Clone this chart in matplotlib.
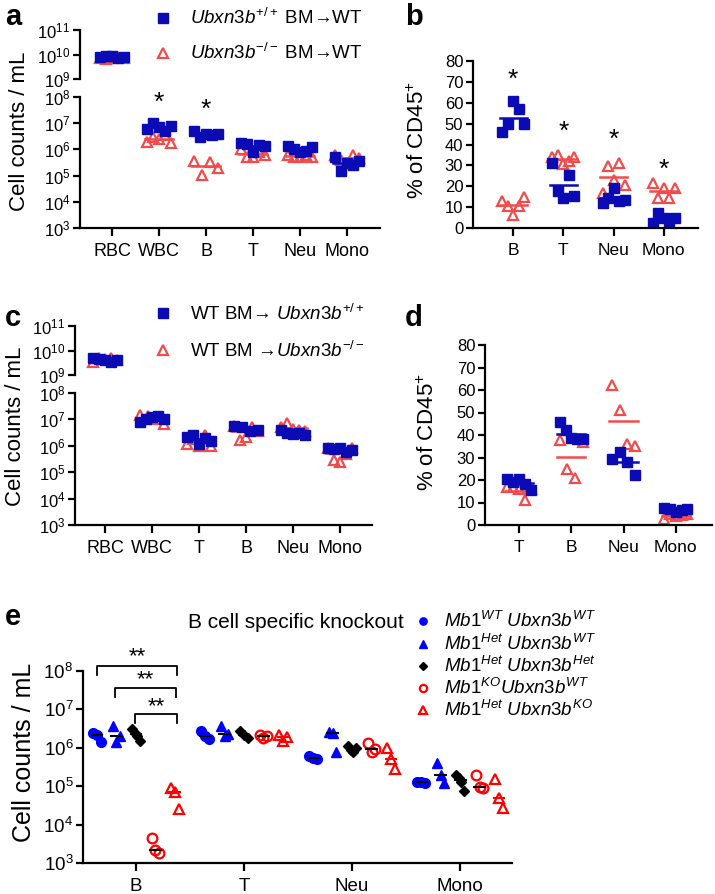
import numpy as np
import matplotlib
matplotlib.use('Agg')
import matplotlib.pyplot as plt
from matplotlib.lines import Line2D
from matplotlib.ticker import NullLocator

plt.rcParams['font.family'] = ['Liberation Sans', 'DejaVu Sans']
plt.rcParams['mathtext.fontset'] = 'custom'
plt.rcParams['mathtext.rm'] = 'Liberation Sans'
plt.rcParams['mathtext.it'] = 'Liberation Sans:italic'
plt.rcParams['mathtext.bf'] = 'Liberation Sans:bold'

BLUE = '#0B0BB5'
RED = '#F24B4B'

# ---- data ----
cats_a = ['RBC', 'WBC', 'B', 'T', 'Neu', 'Mono']
a_wt = [[8e9, 9e9, 8.5e9, 7.5e9, 8e9],
        [6e6, 1e7, 7e6, 5e6, 8e6],
        [5e6, 3e6, 4e6, 3.5e6, 4e6],
        [1.7e6, 1.6e6, 8e5, 1.5e6, 1.3e6],
        [1.4e6, 1e6, 8e5, 9e5, 1.2e6],
        [5e5, 1.5e5, 3e5, 2.5e5, 3.5e5]]
a_ko = [[7e9, 6.5e9, 7e9, 8e9, 7.5e9],
        [2e6, 3e6, 2.5e6, 3.5e6, 1.8e6],
        [3.5e5, 1.1e5, 3.2e5, 1.9e5],
        [1e6, 5e5, 5e5, 8e5, 6e5],
        [6e5, 5e5, 5e5, 6e5, 5e5],
        [6e5, 4e5, 3e5, 6e5, 4.5e5]]
a_star = {'WBC': 6e7, 'B': 3.2e7}

cats_b = ['B', 'T', 'Neu', 'Mono']
b_wt = [[46, 50, 61, 57, 50],
        [31, 17.6, 14.4, 25.6, 15.2],
        [12, 14.4, 19.2, 12.8, 13.6],
        [2.4, 7.2, 4.8, 3.2, 4.8]]
b_ko = [[12.8, 10.4, 6, 10.7, 15],
        [34, 35, 30.5, 32, 34],
        [16.8, 29.6, 23.2, 31.2, 20.8],
        [21.6, 14.4, 19.2, 14.4, 19.2]]
b_star = [71, 46, 42, 28]

cats_c = ['RBC', 'WBC', 'T', 'B', 'Neu', 'Mono']
c_wt = [[5e9, 4.5e9, 4e9, 3.5e9, 4e9],
        [8e6, 1e7, 1.2e7, 1.3e7, 1e7],
        [2.2e6, 2.5e6, 1.2e6, 2e6, 1.5e6],
        [5.5e6, 5e6, 3.5e6, 3.8e6],
        [4e6, 3e6, 2.8e6, 3e6, 2.5e6],
        [8e5, 7.5e5, 8e5, 6e5, 7e5]]
c_ko = [[3.5e9, 5e9, 4.5e9, 5e9, 4e9],
        [1.5e7, 1.3e7, 1e7, 6.5e6],
        [1.2e6, 1.8e6, 1e6, 2.5e6, 1e6],
        [5.5e6, 1.6e6, 2.2e6, 5e6, 3.5e6],
        [5e6, 7e6, 4.5e6, 4e6, 3.5e6],
        [8e5, 3e5, 2.5e5, 5e5, 8e5]]

cats_d = ['T', 'B', 'Neu', 'Mono']
d_wt = [[20.4, 18.9, 20.4, 18.2, 15.5],
        [45.7, 42.3, 38.7, 38.3, 38.3],
        [29.4, 32.3, 28.2, 22.4],
        [7.5, 7, 6, 6.5, 7]]
d_ko = [[16.7, 16.7, 15.9, 11, 16],
        [38, 24.9, 20.7, 37.1],
        [62.4, 51.3, 36.1, 35.3],
        [2.5, 5, 4, 4.5, 5]]

cats_e = ['B', 'T', 'Neu', 'Mono']
e_groups = [r'$\mathit{Mb1}^{\mathit{WT}}\ \mathit{Ubxn3b}^{\mathit{WT}}$',
            r'$\mathit{Mb1}^{\mathit{Het}}\ \mathit{Ubxn3b}^{\mathit{WT}}$',
            r'$\mathit{Mb1}^{\mathit{Het}}\ \mathit{Ubxn3b}^{\mathit{Het}}$',
            r'$\mathit{Mb1}^{\mathit{KO}}\mathit{Ubxn3b}^{\mathit{WT}}$',
            r'$\mathit{Mb1}^{\mathit{Het}}\ \mathit{Ubxn3b}^{\mathit{KO}}$']
e_vals = [
    [[2.5e6, 2.1e6, 1.45e6], [3.6e6, 1.4e6, 2e6], [3e6, 2.5e6, 2e6, 1.5e6], [4.5e3, 2.2e3, 1.8e3], [9e4, 7e4, 2.5e4]],
    [[2.8e6, 2e6, 1.7e6], [3.7e6, 2e6, 2.3e6], [2.7e6, 2.1e6, 1.8e6], [2.2e6, 1.85e6, 2e6], [2.1e6, 1.5e6, 1.9e6]],
    [[6e5, 5.5e5, 5e5], [2.6e6, 2.4e6, 8e5], [1.1e6, 9e5, 8e5, 1e6], [1.3e6, 8e5, 9.5e5], [1e6, 5e5, 2.8e5]],
    [[1.3e5, 1.25e5, 1.2e5], [4e5, 1.9e5, 1.2e5], [2e5, 1.6e5, 1.3e5, 7.5e4], [2e5, 9.5e4, 9e4], [1.5e5, 5e4, 2.7e4]],
]

W, H = 715, 894
fig = plt.figure(figsize=(W / 100, H / 100), dpi=100)


def box(x0, y0, x1, y1):
    return [x0 / W, 1 - y1 / H, (x1 - x0) / W, (y1 - y0) / H]


def fxy(px, py):
    return px / W, 1 - py / H


def style(ax, fs):
    for s in ['top', 'right']:
        ax.spines[s].set_visible(False)
    for s in ['left', 'bottom']:
        ax.spines[s].set_linewidth(1.6)
    ax.tick_params(width=1.6, length=5, labelsize=fs, pad=2)


def spread(n, w):
    return np.linspace(-w, w, n) if n > 1 else np.zeros(1)


def dots(ax, i, vals, kind, w, hw):
    x = i + spread(len(vals), w)
    if kind == 'wt':
        ax.plot(x, vals, 's', ms=7, color=BLUE, mec=BLUE, ls='none')
        ax.plot([i - hw, i + hw], [np.mean(vals)] * 2, color=BLUE, lw=1.8)
    else:
        ax.plot(x, vals, '^', ms=7.5, mfc='none', mec=RED, mew=1.6, ls='none')
        ax.plot([i - hw, i + hw], [np.mean(vals)] * 2, color=RED, lw=1.8)


def log_labels(exps):
    return [r'$10^{%d}$' % e for e in exps]


def broken(top, bot, cats, wt, ko, xlim, fs):
    axt = fig.add_axes(top)
    axb = fig.add_axes(bot)
    for ax in (axt, axb):
        style(ax, fs)
        ax.set_yscale('log')
        ax.yaxis.set_minor_locator(NullLocator())
        ax.set_xlim(*xlim)
        for i in range(len(cats)):
            dots(ax, i, ko[i], 'ko', 0.26, 0.3)
            dots(ax, i, wt[i], 'wt', 0.26, 0.3)
    axt.set_ylim(1e9, 1e11)
    axt.set_yticks([1e9, 1e10, 1e11])
    axt.set_yticklabels(log_labels([9, 10, 11]))
    axt.spines['bottom'].set_visible(False)
    axt.set_xticks([])
    axb.set_ylim(1e3, 1e8)
    axb.set_yticks([1e3, 1e4, 1e5, 1e6, 1e7, 1e8])
    axb.set_yticklabels(log_labels([3, 4, 5, 6, 7, 8]))
    axb.set_xticks(range(len(cats)))
    axb.set_xticklabels(cats)
    axb.tick_params(axis='x', length=6, pad=5, labelsize=13)
    return axt, axb


# ---- panel a ----
axt, axb = broken(box(80, 30, 380, 79), box(80, 97, 380, 228), cats_a, a_wt, a_ko, (-0.68, 5.7), 12)
for k, v in a_star.items():
    axb.text(cats_a.index(k), v, '*', ha='center', va='center', fontsize=19, clip_on=False)
fig.text(*fxy(20, 131), 'Cell counts / mL', rotation=90, ha='center', va='center', fontsize=16)
fig.add_artist(Line2D([163 / W], [1 - 18 / H], marker='s', ms=7, color=BLUE, ls='none'))
fig.add_artist(Line2D([163 / W], [1 - 53 / H], marker='^', ms=7.5, mfc='none', mec=RED, mew=1.6, ls='none'))
fig.text(*fxy(190, 18), r'$\mathit{Ubxn3b}^{+/+}$ BM→WT', va='center', fontsize=13.5)
fig.text(*fxy(190, 53), r'$\mathit{Ubxn3b}^{-/-}$ BM→WT', va='center', fontsize=13.5)

# ---- panel b ----
ax = fig.add_axes(box(473, 61, 698, 228))
style(ax, 12)
for i in range(len(cats_b)):
    dots(ax, i, b_ko[i], 'ko', 0.22, 0.27)
    dots(ax, i, b_wt[i], 'wt', 0.22, 0.27)
    ax.text(i, b_star[i], '*', ha='center', va='center', fontsize=19)
ax.set_xlim(-0.8, 3.68)
ax.set_ylim(0, 80)
ax.set_yticks(range(0, 81, 10))
ax.set_xticks(range(len(cats_b)))
ax.set_xticklabels(cats_b)
ax.tick_params(axis='x', length=6, pad=5, labelsize=12.5)
fig.text(*fxy(418, 140), r'% of CD45$^{+}$', rotation=90, ha='center', va='center', fontsize=16)

# ---- panel c ----
axt, axb = broken(box(75, 326, 372, 375), box(75, 393, 372, 525), cats_c, c_wt, c_ko, (-0.64, 5.68), 12)
fig.text(*fxy(16, 426), 'Cell counts / mL', rotation=90, ha='center', va='center', fontsize=16)
fig.add_artist(Line2D([163 / W], [1 - 313 / H], marker='s', ms=7, color=BLUE, ls='none'))
fig.add_artist(Line2D([163 / W], [1 - 350 / H], marker='^', ms=7.5, mfc='none', mec=RED, mew=1.6, ls='none'))
fig.text(*fxy(190, 314), r'WT BM→ $\mathit{Ubxn3b}^{+/+}$', va='center', fontsize=13.5)
fig.text(*fxy(190, 351), r'WT BM →$\mathit{Ubxn3b}^{-/-}$', va='center', fontsize=13.5)

# ---- panel d ----
ax = fig.add_axes(box(485, 345, 712, 525))
style(ax, 12)
for i in range(len(cats_d)):
    dots(ax, i, d_ko[i], 'ko', 0.22, 0.27)
    dots(ax, i, d_wt[i], 'wt', 0.22, 0.27)
ax.set_xlim(-0.65, 3.69)
ax.set_ylim(0, 80)
ax.set_yticks(range(0, 81, 10))
ax.set_xticks(range(len(cats_d)))
ax.set_xticklabels(cats_d)
ax.tick_params(axis='x', length=6, pad=5, labelsize=12.5)
fig.text(*fxy(428, 432), r'% of CD45$^{+}$', rotation=90, ha='center', va='center', fontsize=16)

# ---- panel e ----
ax = fig.add_axes(box(83, 671, 512, 863))
style(ax, 13.5)
ax.set_yscale('log')
ax.yaxis.set_minor_locator(NullLocator())
styles_e = [dict(marker='o', ms=7, color='#0000FF', ls='none'),
            dict(marker='^', ms=7, color='#0000FF', ls='none'),
            dict(marker='D', ms=5, color='black', ls='none'),
            dict(marker='o', ms=7, mfc='none', mec='#FF0000', mew=1.6, ls='none'),
            dict(marker='^', ms=7.5, mfc='none', mec='#FF0000', mew=1.6, ls='none')]
line_e = ['black', 'black', 'black', 'black', '#FF0000']
offs = [-0.36, -0.18, 0.0, 0.18, 0.36]
for i in range(len(cats_e)):
    for g in range(5):
        vals = e_vals[i][g]
        c = i + offs[g]
        ax.plot(c + spread(len(vals), 0.035), vals, **styles_e[g])
        ax.plot([c - 0.05, c + 0.05], [np.median(vals)] * 2, color=line_e[g], lw=1.5)
ax.set_xlim(-0.49, 3.48)
ax.set_ylim(1e3, 1e8)
ax.set_yticks([1e3, 1e4, 1e5, 1e6, 1e7, 1e8])
ax.set_yticklabels(log_labels([3, 4, 5, 6, 7, 8]))
ax.set_xticks(range(len(cats_e)))
ax.set_xticklabels(cats_e)
ax.tick_params(axis='x', length=6, pad=5)
fig.text(*fxy(24, 752), 'Cell counts / mL', rotation=90, ha='center', va='center', fontsize=18)
# significance brackets
for x0, x1, yb, ys in [(-0.36, 0.38, 10 ** 8.13, 10 ** 8.36),
                       (-0.19, 0.37, 10 ** 7.56, 10 ** 7.78),
                       (-0.01, 0.38, 10 ** 6.88, 10 ** 7.08)]:
    ax.plot([x0, x0, x1, x1], [yb / 10 ** 0.23, yb, yb, yb / 10 ** 0.23], color='black', lw=1.3, clip_on=False)
    ax.text((x0 + x1) / 2, ys, '**', ha='center', va='center', fontsize=16, clip_on=False)
fig.text(*fxy(188, 622), 'B cell specific knockout', va='center', fontsize=15)
for g, yy in enumerate([621, 644, 666, 688, 710]):
    st = dict(styles_e[g])
    st['ms'] = st['ms'] * 0.75
    fig.add_artist(Line2D([423 / W], [1 - yy / H], **st))
    fig.text(*fxy(444, yy), e_groups[g], va='center', fontsize=13.5)

# panel letters
for lab, (px, py) in zip('abcde', [(5, 17), (405, 17), (5, 318), (405, 318), (5, 617)]):
    fig.text(*fxy(px, py), lab, fontsize=21, fontweight='bold', va='center')

fig.savefig('out.png', dpi=100)
